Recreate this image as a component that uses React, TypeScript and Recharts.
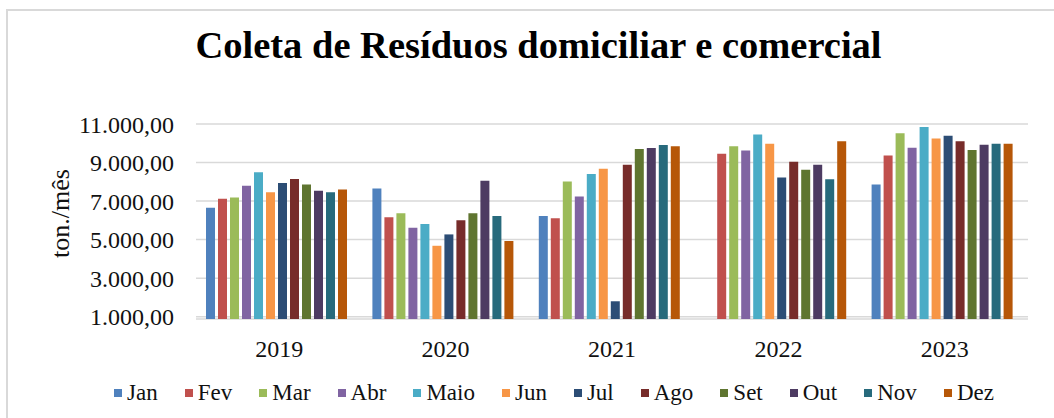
import React from 'react';
import { BarChart, Bar, XAxis, YAxis, CartesianGrid, Legend, Label } from 'recharts';

const years = ['2019', '2020', '2021', '2022', '2023'];
const months = ['Jan', 'Fev', 'Mar', 'Abr', 'Maio', 'Jun', 'Jul', 'Ago', 'Set', 'Out', 'Nov', 'Dez'];
const colors = ['#4F81BD', '#C0504D', '#9BBB59', '#8064A2', '#4BACC6', '#F79646', '#2C4D75', '#772C2A', '#5F7530', '#4D3B62', '#276A7C', '#B65708'];

// one array per month, values for 2019..2023 (ton./mês)
const jan = [6650, 7650, 6220, 880, 7860];
const fev = [7120, 6160, 6110, 9450, 9360];
const mar = [7190, 6370, 8010, 9840, 10520];
const abr = [7800, 5620, 7240, 9630, 9770];
const maio = [8490, 5810, 8400, 10450, 10850];
const jun = [7460, 4680, 8680, 9970, 10250];
const jul = [7940, 5270, 1800, 8220, 10390];
const ago = [8150, 6010, 8880, 9040, 10110];
const set = [7860, 6370, 9700, 8630, 9650];
const out = [7530, 8060, 9750, 8880, 9920];
const nov = [7460, 6220, 9910, 8130, 9970];
const dez = [7600, 4930, 9840, 10110, 9970];

const monthValues = [jan, fev, mar, abr, maio, jun, jul, ago, set, out, nov, dez];
const yTicks = [1000, 3000, 5000, 7000, 9000, 11000];

const data = years.map((year, i) => {
  const row: Record<string, string | number> = { year };
  months.forEach((m, j) => {
    row[m] = monthValues[j][i];
  });
  return row;
});

const font = '"Liberation Serif", "Times New Roman", serif';

const fmt = (v: number) => {
  const s = Math.round(v).toString().replace(/\B(?=(\d{3})+(?!\d))/g, '.');
  return s + ',00';
};

const LegendContent = () => (
  <div style={{ display: 'flex', justifyContent: 'center', alignItems: 'center', fontFamily: font, fontSize: 23, color: '#111', paddingLeft: 54 }}>
    {months.map((m, i) => (
      <div key={m} style={{ display: 'flex', alignItems: 'center', marginRight: i < months.length - 1 ? 27 : 0 }}>
        <span style={{ width: 8, height: 8, background: colors[i], display: 'inline-block', marginRight: 5 }} />
        <span>{m}</span>
      </div>
    ))}
  </div>
);

export default function App() {
  return (
    <div style={{ position: 'fixed', left: 0, top: 0, width: 1054, height: 418, background: '#fff', overflow: 'hidden' }}>
      <div style={{ position: 'absolute', left: 6, top: 9, width: 1200, height: 600, border: '2px solid #d9d9d9' }} />
      <div style={{ position: 'absolute', left: 0, top: 26, width: 1077, textAlign: 'center', fontFamily: font, fontWeight: 'bold', fontSize: 38.5, lineHeight: 1, color: '#000' }}>
        Coleta de Resíduos domiciliar e comercial
      </div>
      <div style={{ position: 'absolute', left: 0, top: 0 }}>
        <BarChart width={1054} height={418} data={data} margin={{ top: 124, right: 26, left: 0, bottom: 59 }} barCategoryGap={10} barGap={3}>
          <CartesianGrid horizontal vertical={false} stroke="#d9d9d9" strokeWidth={1.5} />
          <XAxis dataKey="year" height={40} axisLine={false} tickLine={false} tickSize={0} tickMargin={21} tick={{ fontFamily: font, fontSize: 24, fill: '#111' }} />
          <YAxis width={196} domain={() => [1000, 11000]} ticks={yTicks} tickFormatter={fmt} axisLine={false} tickLine={false} tickSize={0} tickMargin={22} tick={{ fontFamily: font, fontSize: 24, fill: '#111' }}>
            <Label value="ton./mês" angle={-90} position="insideLeft" offset={60} dy={-8} style={{ fontFamily: font, fontSize: 26, fill: '#111', textAnchor: 'middle' }} />
          </YAxis>
          <Legend verticalAlign="middle" align="center" layout="horizontal" wrapperStyle={{ top: 380, left: 0, width: 1054 }} content={LegendContent} />
          {months.map((m, i) => (
            <Bar key={m} dataKey={m} fill={colors[i]} isAnimationActive={false} />
          ))}
        </BarChart>
      </div>
    </div>
  );
}
